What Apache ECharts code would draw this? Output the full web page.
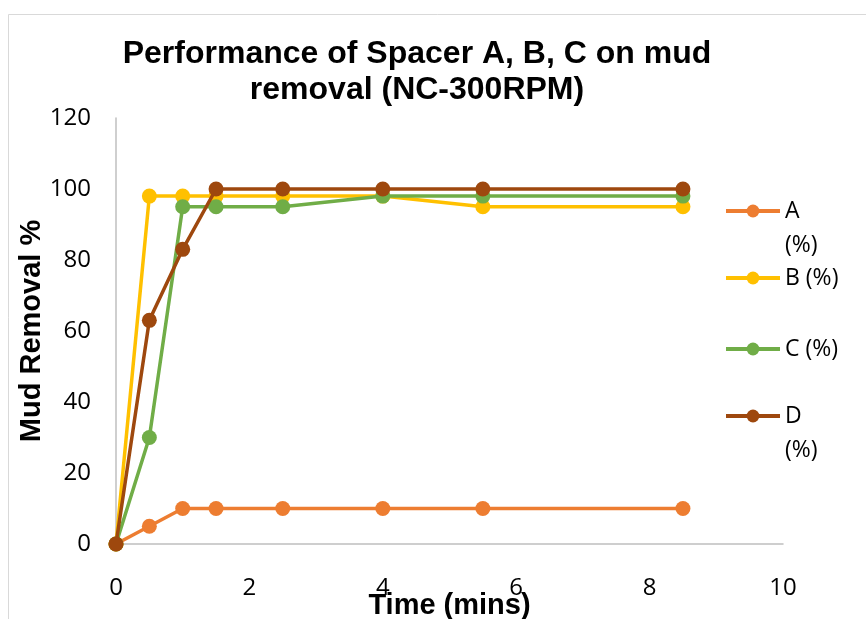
<!DOCTYPE html>
<html>
<head>
<meta charset="utf-8">
<script src="https://cdn.jsdelivr.net/npm/echarts@6/dist/echarts.min.js"></script>
<style>html,body{margin:0;padding:0;background:#fff}#c{width:866px;height:619px}</style>
</head>
<body>
<div id="c"></div>
<script>
var timeMins = [0, 0.5, 1, 1.5, 2.5, 4, 5.5, 8.5];
var seriesA = [0, 5, 10, 10, 10, 10, 10, 10];
var seriesB = [0, 98, 98, 98, 98, 98, 95, 95];
var seriesC = [0, 30, 95, 95, 95, 98, 98, 98];
var seriesD = [0, 63, 83, 100, 100, 100, 100, 100];
var seriesNames = ['A (%)', 'B (%)', 'C (%)', 'D (%)'];
var seriesColors = ['#ED7D31', '#FFC000', '#70AD47', '#9E480E'];
var allValues = [seriesA, seriesB, seriesC, seriesD];

function pairs(vals) { return timeMins.map(function (t, i) { return [t, vals[i]]; }); }

var font = 'Liberation Sans, Arial, sans-serif';
var tickFont = 'Open Sans, Liberation Sans, sans-serif';
var LH = 34;
var wrapped = [true, false, false, true];
var legendCenters = [211, 278, 349, 416];

var legends = seriesNames.map(function (n, i) {
  var h = wrapped[i] ? LH * 3 : LH;
  return {
    data: [n], left: 724, top: legendCenters[i] - h / 2, orient: 'vertical',
    itemWidth: 54, itemHeight: 16, itemGap: 0, padding: 0,
    lineStyle: { width: 4 },
    formatter: function (name) { return wrapped[i] ? ' \n' + name.replace(' ', '\n') : name; },
    textStyle: { fontFamily: tickFont, fontSize: 23, color: '#000', lineHeight: LH }
  };
});

var chart = echarts.init(document.getElementById('c'));
chart.setOption({
  animation: false,
  backgroundColor: '#fff',
  graphic: [{
    type: 'rect', left: 6, top: 12, shape: { width: 900, height: 700 },
    style: { fill: 'none', stroke: '#d9d9d9', lineWidth: 1 }, z: -1
  }],
  title: {
    text: 'Performance of Spacer A, B, C on mud\nremoval (NC-300RPM)',
    left: 417, top: 36, textAlign: 'center', padding: 0,
    textStyle: { fontFamily: font, fontWeight: 'bold', fontSize: 32, lineHeight: 36, color: '#000' }
  },
  legend: legends,
  grid: { left: 116, right: 83, top: 118, bottom: 75, outerBoundsMode: 'none', containLabel: false },
  xAxis: {
    type: 'value', min: 0, max: 10, interval: 2,
    name: 'Time (mins)', nameLocation: 'middle', nameGap: 47, nameMoveOverlap: false,
    nameTextStyle: { fontFamily: font, fontWeight: 'bold', fontSize: 29, color: '#000' },
    axisLine: { show: true, lineStyle: { color: '#bfbfbf', width: 1.5 } },
    axisTick: { show: false },
    splitLine: { show: false },
    axisLabel: { fontFamily: tickFont, fontSize: 24, color: '#000', margin: 32 }
  },
  yAxis: {
    type: 'value', min: 0, max: 120, interval: 20,
    name: 'Mud Removal %', nameLocation: 'middle', nameGap: 70, nameRotate: 90, nameMoveOverlap: false,
    nameTextStyle: { fontFamily: font, fontWeight: 'bold', fontSize: 29, color: '#000' },
    axisLine: { show: true, lineStyle: { color: '#bfbfbf', width: 1.5 } },
    axisTick: { show: false },
    splitLine: { show: false },
    axisLabel: { fontFamily: tickFont, fontSize: 24, color: '#000', margin: 25 }
  },
  series: seriesNames.map(function (n, i) {
    return {
      name: n, type: 'line', data: pairs(allValues[i]),
      symbol: 'circle', symbolSize: 15, showAllSymbol: true,
      lineStyle: { color: seriesColors[i], width: 3.5 },
      itemStyle: { color: seriesColors[i] },
      z: 2 + i
    };
  })
});
</script>
</body>
</html>
